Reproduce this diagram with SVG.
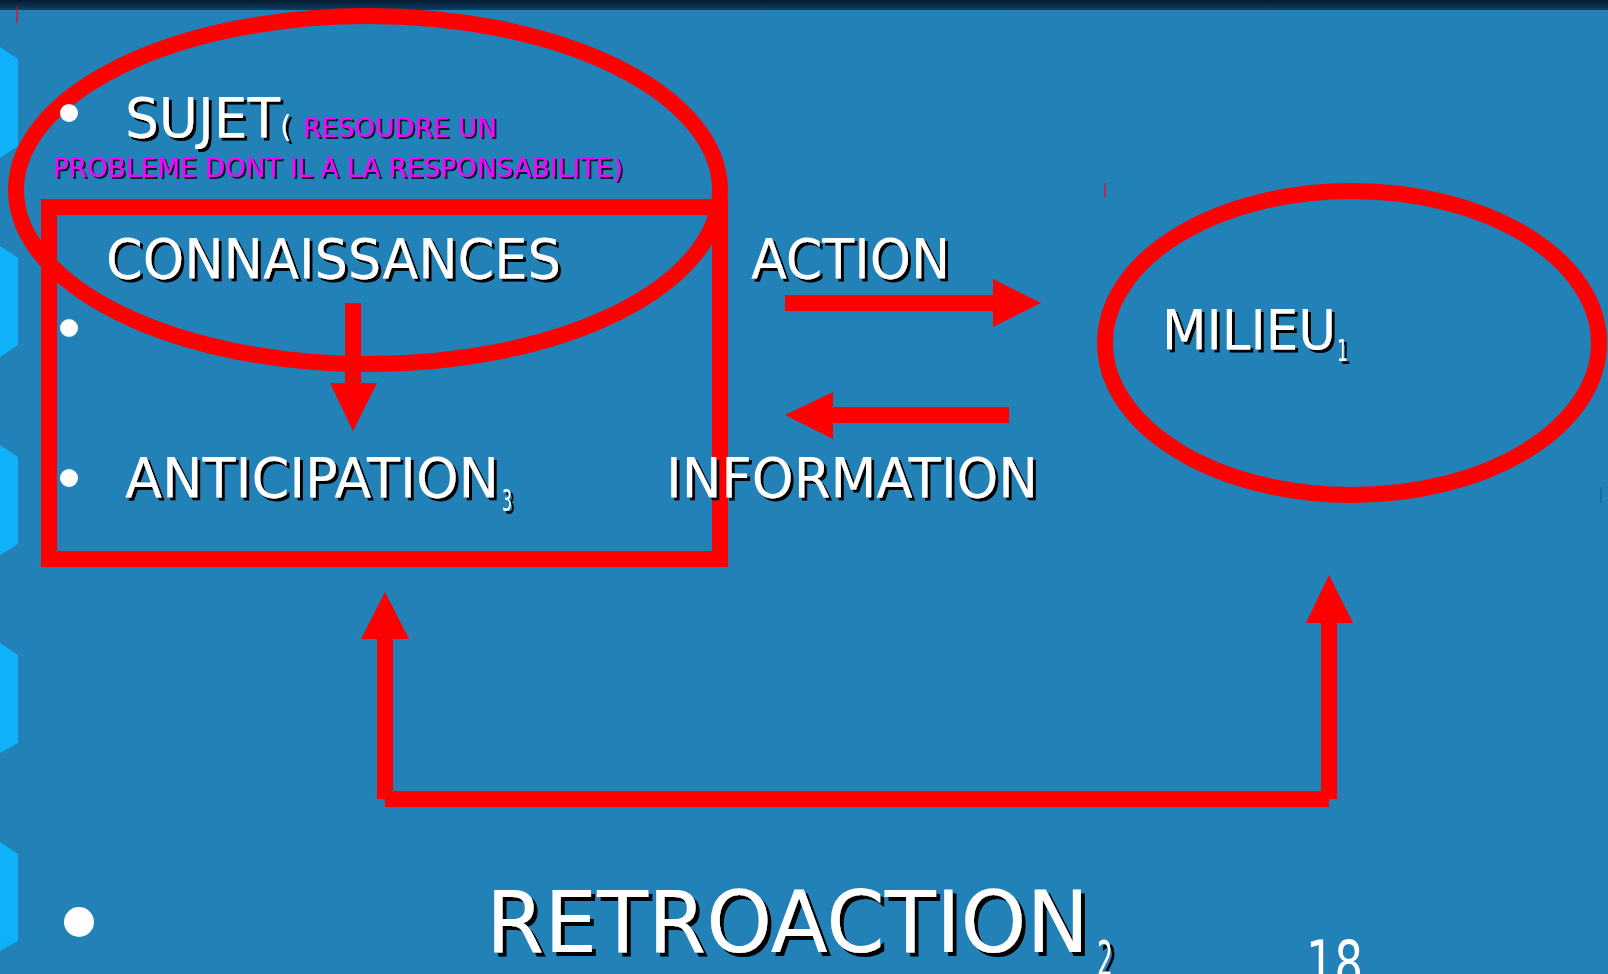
<svg xmlns="http://www.w3.org/2000/svg" width="1608" height="974" viewBox="0 0 1608 974">
  <defs>
    <linearGradient id="topbar" x1="0" y1="0" x2="0" y2="1">
      <stop offset="0" stop-color="#031a30"/>
      <stop offset="1" stop-color="#0f3f66"/>
    </linearGradient>
    <filter id="shadow" x="-5%" y="-20%" width="110%" height="150%">
      <feDropShadow dx="3" dy="3" stdDeviation="0" flood-color="#000" flood-opacity="1"/>
    </filter>
    <filter id="shadowBig" x="-5%" y="-20%" width="110%" height="150%">
      <feDropShadow dx="4" dy="4" stdDeviation="0" flood-color="#000" flood-opacity="1"/>
    </filter>
    <filter id="shadowSmall" x="-5%" y="-20%" width="110%" height="150%">
      <feDropShadow dx="2" dy="2" stdDeviation="0" flood-color="#000" flood-opacity="0.8"/>
    </filter>
  </defs>
  <style>
    .bg { fill: #2281b7; }
    .tab { fill: #10b1fb; }
    .bullet { fill: #ffffff; }
    .outline { fill: none; stroke: #ff0000; stroke-width: 16; }
    .shaft { stroke: #ff0000; stroke-width: 16; stroke-linecap: butt; fill: none; }
    .head { fill: #ff0000; }
    .t { font-family: "DejaVu Sans", "Noto Sans", sans-serif; fill: #ffffff; }
    .big { font-size: 55px; }
    .mag { fill: #ff00ff; font-size: 27px; }
    .sub { font-size: 30px; }
    .tick { stroke: #ff0000; stroke-width: 1.2; }
  </style>

  <!-- background -->
  <rect class="bg" x="0" y="0" width="1608" height="974"/>
  <rect x="0" y="0" width="1608" height="10" fill="url(#topbar)"/>

  <!-- left side tabs -->
  <g id="tabs">
    <polygon class="tab" points="0,47 18,59 18,146 0,158"/>
    <polygon class="tab" points="0,246 18,258 18,345 0,357"/>
    <polygon class="tab" points="0,445 18,457 18,544 0,555"/>
    <polygon class="tab" points="0,643 18,655 18,743 0,753"/>
    <polygon class="tab" points="0,842 18,854 18,941 0,951"/>
  </g>

  <!-- tiny marks -->
  <line class="tick" x1="17" y1="7" x2="17" y2="23"/>
  <line class="tick" x1="1105" y1="183" x2="1105" y2="198"/>
  <line x1="1601" y1="487" x2="1601" y2="503" stroke="#1a5f8a" stroke-width="1.2"/>

  <!-- SUJET node -->
  <g id="sujet">
    <ellipse class="outline" cx="368" cy="190" rx="352" ry="174"/>
    <circle class="bullet" cx="69" cy="113" r="9"/>
    <g filter="url(#shadow)">
      <text class="t big" x="125" y="137" textLength="155" lengthAdjust="spacingAndGlyphs">SUJET</text>
      <text class="t" x="280" y="137" font-size="30">(</text>
    </g>
    <g filter="url(#shadowSmall)">
      <text class="t mag" x="303" y="137" textLength="194" lengthAdjust="spacingAndGlyphs">RESOUDRE UN</text>
      <text class="t mag" x="53" y="177" textLength="570" lengthAdjust="spacingAndGlyphs">PROBLEME DONT IL A LA RESPONSABILITE)</text>
    </g>
  </g>

  <!-- CONNAISSANCES / ANTICIPATION box -->
  <g id="connaissances">
    <rect class="outline" x="49" y="207" width="671" height="352"/>
    <circle class="bullet" cx="69" cy="328" r="9"/>
    <circle class="bullet" cx="69" cy="478" r="9"/>
    <g filter="url(#shadow)">
      <text class="t big" x="106" y="278" textLength="455" lengthAdjust="spacingAndGlyphs">CONNAISSANCES</text>
      <text class="t big" x="125" y="497" textLength="374" lengthAdjust="spacingAndGlyphs">ANTICIPATION</text>
      <text class="t sub" x="502" y="511" textLength="10" lengthAdjust="spacingAndGlyphs">3</text>
    </g>
  </g>

  <!-- MILIEU node -->
  <g id="milieu">
    <ellipse class="outline" cx="1352" cy="343" rx="247" ry="152"/>
    <g filter="url(#shadow)">
      <text class="t big" x="1162" y="349" textLength="174" lengthAdjust="spacingAndGlyphs">MILIEU</text>
      <text class="t sub" x="1337" y="361" textLength="11" lengthAdjust="spacingAndGlyphs">1</text>
    </g>
  </g>

  <!-- labels -->
  <g id="labels" filter="url(#shadow)">
    <text class="t big" x="751" y="278" textLength="199" lengthAdjust="spacingAndGlyphs">ACTION</text>
    <text class="t big" x="666" y="497" textLength="372" lengthAdjust="spacingAndGlyphs">INFORMATION</text>
  </g>

  <!-- RETROACTION -->
  <g id="retroaction">
    <circle class="bullet" cx="79" cy="922" r="15"/>
    <g filter="url(#shadowBig)">
      <text class="t" x="486" y="952" font-size="85" textLength="603" lengthAdjust="spacingAndGlyphs">RETROACTION</text>
      <text class="t" x="1097" y="976" font-size="50" textLength="16" lengthAdjust="spacingAndGlyphs">2</text>
    </g>
  </g>

  <!-- page number -->
  <g id="pagenum">
    <text class="t" x="1306" y="985" font-size="62" textLength="57" lengthAdjust="spacingAndGlyphs">18</text>
  </g>

  <!-- connectors -->
  <g id="connectors">
    <!-- connaissances -> anticipation -->
    <line class="shaft" x1="353" y1="303" x2="353" y2="384"/>
    <polygon class="head" points="330,383 377,383 353,431"/>
    <!-- action -->
    <line class="shaft" x1="785" y1="303" x2="994" y2="303"/>
    <polygon class="head" points="993,279 1041,303 993,327"/>
    <!-- information -->
    <line class="shaft" x1="832" y1="415" x2="1009" y2="415"/>
    <polygon class="head" points="833,392 785,415 833,439"/>
    <!-- retroaction loop -->
    <line class="shaft" x1="385" y1="637" x2="385" y2="799"/>
    <polygon class="head" points="361,639 385,592 409,639"/>
    <line class="shaft" x1="385" y1="799" x2="1329" y2="799"/>
    <line class="shaft" x1="1329" y1="621" x2="1329" y2="799"/>
    <polygon class="head" points="1306,623 1329,575 1353,623"/>
  </g>
</svg>
